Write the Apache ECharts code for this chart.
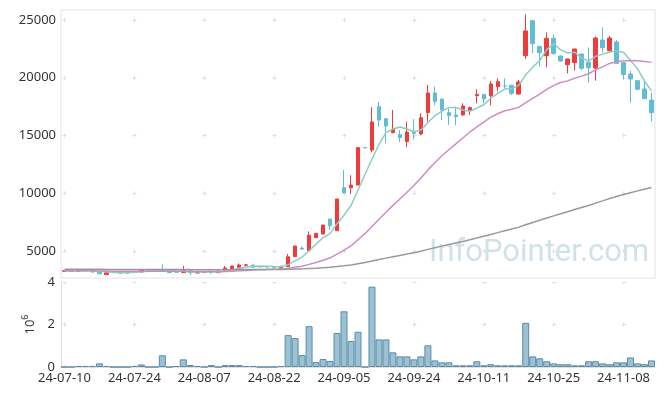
<!DOCTYPE html>
<html><head><meta charset="utf-8">
<script src="https://cdn.jsdelivr.net/npm/echarts@6/dist/echarts.min.js"></script>
<style>html,body{margin:0;padding:0;background:#fff}#c{width:665px;height:396px}</style>
</head><body><div id="c"></div>
<script>
const dates = ['24-07-10','24-07-11','24-07-12','24-07-15','24-07-16','24-07-17','24-07-18','24-07-19','24-07-22','24-07-23','24-07-24','24-07-25','24-07-26','24-07-29','24-07-30','24-07-31',
'24-08-01','24-08-02','24-08-05','24-08-06','24-08-07','24-08-08','24-08-09','24-08-12','24-08-13','24-08-14','24-08-16','24-08-19','24-08-20','24-08-21','24-08-22','24-08-23','24-08-26','24-08-27','24-08-28','24-08-29','24-08-30',
'24-09-02','24-09-03','24-09-04','24-09-05','24-09-06','24-09-09','24-09-10','24-09-11','24-09-12','24-09-13','24-09-19','24-09-20','24-09-23','24-09-24','24-09-25','24-09-26','24-09-27','24-09-30',
'24-10-02','24-10-04','24-10-07','24-10-08','24-10-10','24-10-11','24-10-14','24-10-15','24-10-16','24-10-17','24-10-18','24-10-21','24-10-22','24-10-23','24-10-24','24-10-25','24-10-28','24-10-29','24-10-30','24-10-31',
'24-11-01','24-11-04','24-11-05','24-11-06','24-11-07','24-11-08','24-11-11','24-11-12','24-11-13','24-11-14'];

const openP = [3250,3240,3240,3310,3250,3240,2950,3180,3100,3100,
3200,3180,3340,3340,3380,3240,3190,3130,3340,3095,
3160,3200,3120,3300,3450,3590,3770,3790,3620,3640,
3650,3500,3640,4510,5250,5030,6150,6470,7770,6760,
10480,10480,10710,13960,13740,17500,16460,15250,15070,14470,
15330,15130,16980,18680,18160,16980,16780,16780,17150,18450,
18560,18450,19230,19300,19340,18590,21910,24940,22720,21910,
23410,21880,21130,21310,22060,21340,20840,23270,22350,23100,
21310,20330,19750,19030,18070];
const closeP = [3290,3260,3380,3290,3190,3040,3120,3130,3150,3210,
3170,3380,3370,3370,3260,3130,3170,3350,3130,3180,
3190,3170,3270,3530,3700,3790,3800,3590,3660,3610,
3580,3680,4500,5430,5170,6360,6530,7250,7190,9500,
10050,10710,13950,13930,16170,16340,15820,15530,14810,15300,
15190,16540,18680,17930,17210,16720,16630,17550,17410,18560,
18160,19460,19660,19280,18650,19630,24050,22950,22170,23410,
22110,21450,21620,22490,20820,20870,23440,22600,23440,21250,
20270,19890,19000,18190,16980];
const lowP = [3230,3220,3220,3270,3130,2960,2930,3080,3090,3090,
3150,3170,3320,3320,3230,3110,3150,3120,2900,3080,
3150,3010,3110,3290,3440,3580,3760,3580,3610,3600,
3570,3490,3600,4500,5100,5000,6140,6460,6820,6750,
9990,9935,10700,13900,13540,15770,14320,15190,14410,13980,
14670,15010,16200,17610,16340,15910,15880,16720,16780,17790,
17790,17610,18800,19080,18510,18560,21620,22110,20960,20900,
21970,21400,20380,20610,20670,19570,19750,22200,22170,21190,
19860,17840,18910,18160,16200];
const highP = [3320,3280,3420,3330,3260,3250,3130,3190,3170,3220,
3210,3450,3420,3390,3830,3250,3200,3700,3350,3190,
3200,3350,3280,3700,3710,3930,3870,3800,3670,3650,
3660,3690,4740,5440,5400,6700,6540,7260,7780,9510,
12010,11560,13960,13980,17440,17900,16470,17210,15480,16200,
16430,16920,19370,19230,18170,17350,17500,17790,17500,19000,
18600,19720,19950,19950,19400,19810,25490,24950,22750,23930,
23760,21950,21650,22500,22070,22630,23560,24370,23620,23270,
21320,20610,19760,19810,18710];

// volume in millions (axis unit 10^6)
const volume = [0,0,0.05,0.05,0.05,0.17,0.05,0,0,0,
0.05,0.12,0,0,0.55,0,0.05,0.36,0.09,0.05,
0,0.09,0,0.09,0.09,0.09,0.05,0.05,0,0,
0,0.05,1.5,1.36,0.56,1.92,0.23,0.375,0.28,1.6,
2.62,1.22,1.66,0,3.78,1.3,1.3,0.69,0.5,0.5,
0.36,0.5,1.02,0.31,0.22,0.22,0.08,0.08,0.08,0.27,
0.08,0.13,0.08,0.08,0.08,0.08,2.08,0.5,0.41,0.27,
0.17,0.13,0.13,0.08,0.08,0.27,0.27,0.17,0.13,0.22,
0.22,0.45,0.17,0.13,0.31];

const ma5 = [3284,3276,3302,3300,3282,3232,3204,3154,3126,3130,
3156,3208,3256,3300,3390,3302,3260,3256,3208,3192,
3204,3204,3188,3268,3372,3492,3618,3682,3708,3690,
3648,3624,3806,4160,4472,5028,5598,6148,6500,7366,
8104,8940,10280,11628,12962,14220,15242,15558,15734,15560,
15330,15474,16104,16728,17110,17416,17434,17208,17104,17374,
17662,18228,18650,19024,19042,19336,20254,20912,21490,22442,
22938,22418,22152,22216,21698,21450,21848,22044,22234,22320,
22200,21490,20770,19720,18866];
const ma20 = [3281,3280,3285,3285,3281,3269,3261,3253,3247,3243,
3238,3243,3247,3252,3251,3243,3238,3241,3234,3229,
3224,3219,3214,3226,3251,3289,3323,3346,3371,3391,
3412,3427,3483,3586,3682,3843,4011,4206,4409,4725,
5068,5445,5979,6499,7123,7750,8351,8948,9506,10090,
10671,11314,12023,12648,13250,13768,14273,14788,15299,15752,
16157,16595,16880,17148,17272,17436,17848,18219,18587,18992,
19338,19584,19731,19959,20139,20347,20687,20940,21241,21376,
21481,21503,21470,21415,21332];
const ma100 = [3420,3419,3418,3417,3415,3412,3409,3406,3404,3402,
3399,3399,3399,3399,3397,3394,3392,3392,3389,3387,
3385,3382,3381,3382,3385,3389,3393,3395,3398,3400,
3402,3404,3415,3436,3453,3483,3514,3553,3591,3652,
3718,3791,3897,4002,4130,4259,4383,4505,4619,4738,
4856,4987,5140,5285,5423,5557,5689,5830,5970,6122,
6270,6430,6593,6752,6904,7066,7273,7468,7656,7856,
8043,8224,8406,8597,8771,8946,9146,9338,9539,9717,
9886,10051,10207,10355,10490];

const kData = dates.map((d, i) => [openP[i], closeP[i], lowP[i], highP[i]]);

const UP = '#ef3b3b', DOWN = '#62bcd6';
const labelFont = { color: '#333', fontSize: 13, fontFamily: 'Noto Sans' };

const chart = echarts.init(document.getElementById('c'), null, { renderer: 'canvas' });
chart.setOption({
  animation: false,
  backgroundColor: '#fff',
  grid: [
    { left: 61, right: 10, top: 10, height: 268, show: true, borderColor: '#e4e4e4', borderWidth: 1 },
    { left: 61, right: 10, top: 282, height: 85 }
  ],
  xAxis: [
    { type: 'category', gridIndex: 0, data: dates, boundaryGap: true,
      axisLine: { show: false }, axisTick: { show: false }, axisLabel: { show: false },
      splitLine: { show: true, interval: 9, alignWithLabel: true,
        lineStyle: { color: '#dedede', width: 1, type: [4, 53.75], dashOffset: 49.75 } } },
    { type: 'category', gridIndex: 1, data: dates, boundaryGap: true,
      axisLine: { show: true, lineStyle: { color: '#e0e0e0' } }, axisTick: { show: false },
      axisLabel: Object.assign({ interval: 9, margin: 5 }, labelFont),
      splitLine: { show: true, interval: 9, alignWithLabel: true,
        lineStyle: { color: '#dedede', width: 1, type: [4, 38.5], dashOffset: 2 } } }
  ],
  yAxis: [
    { type: 'value', gridIndex: 0, min: 2663, max: 25866, splitNumber: 5,
      axisLine: { show: false }, axisTick: { show: false },
      axisLabel: Object.assign({ margin: 5, showMinLabel: false, showMaxLabel: false,
        formatter: function (v) { return String(v); } }, labelFont),
      splitLine: { show: true, showMinLine: false, showMaxLine: false,
        lineStyle: { color: '#dedede', width: 1, type: [4, 66], dashOffset: 68.5 } } },
    { type: 'value', gridIndex: 1, min: 0, max: 4, interval: 2,
      axisLine: { show: true, lineStyle: { color: '#e0e0e0' } }, axisTick: { show: false },
      axisLabel: Object.assign({ margin: 6 }, labelFont),
      name: '{a|10}{b|6}', nameLocation: 'middle', nameRotate: 90, nameGap: 20,
      nameTextStyle: { rich: {
        a: { fontSize: 13, color: '#333', fontFamily: 'Noto Sans', verticalAlign: 'bottom', lineHeight: 16 },
        b: { fontSize: 9, color: '#333', fontFamily: 'Noto Sans', verticalAlign: 'top', lineHeight: 16 } } },
      splitLine: { show: true,
        lineStyle: { color: '#dedede', width: 1, type: [4, 66], dashOffset: 68.5 } } }
  ],
  graphic: [
    { type: 'text', left: 429, top: 238, z: 0, silent: true,
      style: { text: 'InfoPointer.com', fill: 'rgba(150,188,206,0.45)', font: '31px Roboto' } }
  ],
  series: [
    { type: 'candlestick', name: 'price', xAxisIndex: 0, yAxisIndex: 0, data: kData, barWidth: 4,
      itemStyle: { color: UP, color0: DOWN, borderColor: UP, borderColor0: DOWN, borderWidth: 1 }, z: 3 },
    { type: 'line', name: 'MA5', xAxisIndex: 0, yAxisIndex: 0, data: ma5, symbol: 'none',
      lineStyle: { color: '#8ccdc3', width: 1.5 }, z: 4 },
    { type: 'line', name: 'MA20', xAxisIndex: 0, yAxisIndex: 0, data: ma20, symbol: 'none',
      lineStyle: { color: '#c98fc2', width: 1.5 }, z: 4 },
    { type: 'line', name: 'MA100', xAxisIndex: 0, yAxisIndex: 0, data: ma100, symbol: 'none',
      lineStyle: { color: '#999999', width: 1.5 }, z: 4 },
    { type: 'bar', name: 'volume', xAxisIndex: 1, yAxisIndex: 1, data: volume, barCategoryGap: '0%',
      itemStyle: { color: '#9cc1d3', borderColor: '#5a8ca7', borderWidth: 1 } }
  ]
});
</script>
</body></html>
